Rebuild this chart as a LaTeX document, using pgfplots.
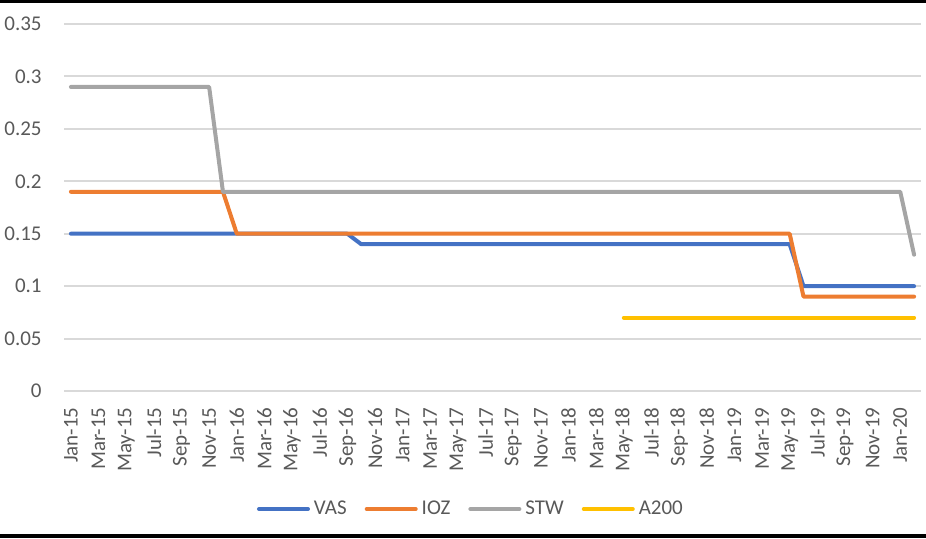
\documentclass[border=0pt]{standalone}
\usepackage{fontspec}
\setmainfont{Carlito}
\usepackage{pgfplots}
\pgfplotsset{compat=1.18}
\definecolor{vas}{HTML}{4472C4}
\definecolor{ioz}{HTML}{ED7D31}
\definecolor{stw}{HTML}{A5A5A5}
\definecolor{atwo}{HTML}{FFC000}
\definecolor{gridgray}{HTML}{D9D9D9}
\definecolor{txt}{HTML}{595959}
% months counted from Jan-15 = 0
\begin{document}
\begin{tikzpicture}[x=0.5pt,y=0.5pt]
\useasboundingbox (0,0) rectangle (926,538);
\fill[black] (0,535) rectangle (926,538);
\fill[black] (0,0) rectangle (926,4);
\begin{axis}[
  at={(32pt,73.5pt)}, anchor=south west, scale only axis,
  width=428.5pt, height=183.5pt,
  xmin=-0.5, xmax=61.5, ymin=0, ymax=0.35,
  axis line style={draw=none}, major tick length=0pt,
  ytick={0,0.05,0.1,0.15,0.2,0.25,0.3,0.35},
  yticklabels={0,0.05,0.1,0.15,0.2,0.25,0.3,0.35},
  ymajorgrids, grid style={gridgray, line width=1pt},
  xtick={0,2,...,60},
  xticklabels={Jan-15,Mar-15,May-15,Jul-15,Sep-15,Nov-15,
    Jan-16,Mar-16,May-16,Jul-16,Sep-16,Nov-16,
    Jan-17,Mar-17,May-17,Jul-17,Sep-17,Nov-17,
    Jan-18,Mar-18,May-18,Jul-18,Sep-18,Nov-18,
    Jan-19,Mar-19,May-19,Jul-19,Sep-19,Nov-19,Jan-20},
  ticklabel style={font=\fontsize{10.5}{12}\selectfont, text=txt, inner sep=0pt},
  xticklabel style={rotate=90, anchor=east},
  yticklabel style={anchor=east},
  xticklabel shift=8pt, yticklabel shift=11pt,
  /pgf/number format/assume math mode=true,
  legend columns=4,
  legend style={at={(0.4760,-0.3215)}, anchor=center, draw=none,
    font=\fontsize{10.5}{12}\selectfont, text=txt,
    /tikz/every even column/.append style={column sep=7pt},
    nodes={inner sep=2pt}},
  legend image code/.code={\draw[#1] (0pt,0pt) -- (24.5pt,0pt);},
  every axis plot/.append style={line width=2pt, line cap=round, line join=round},
]
\addplot[vas] coordinates {(0,0.15)(20,0.15)(21,0.14)(52,0.14)(53,0.10)(61,0.10)};
\addplot[ioz] coordinates {(0,0.19)(11,0.19)(12,0.15)(52,0.15)(53,0.09)(61,0.09)};
\addplot[stw] coordinates {(0,0.29)(10,0.29)(11,0.19)(60,0.19)(61,0.13)};
\addplot[atwo] coordinates {(40,0.07)(61,0.07)};
\legend{VAS,IOZ,STW,A200}
\end{axis}
\end{tikzpicture}
\end{document}
